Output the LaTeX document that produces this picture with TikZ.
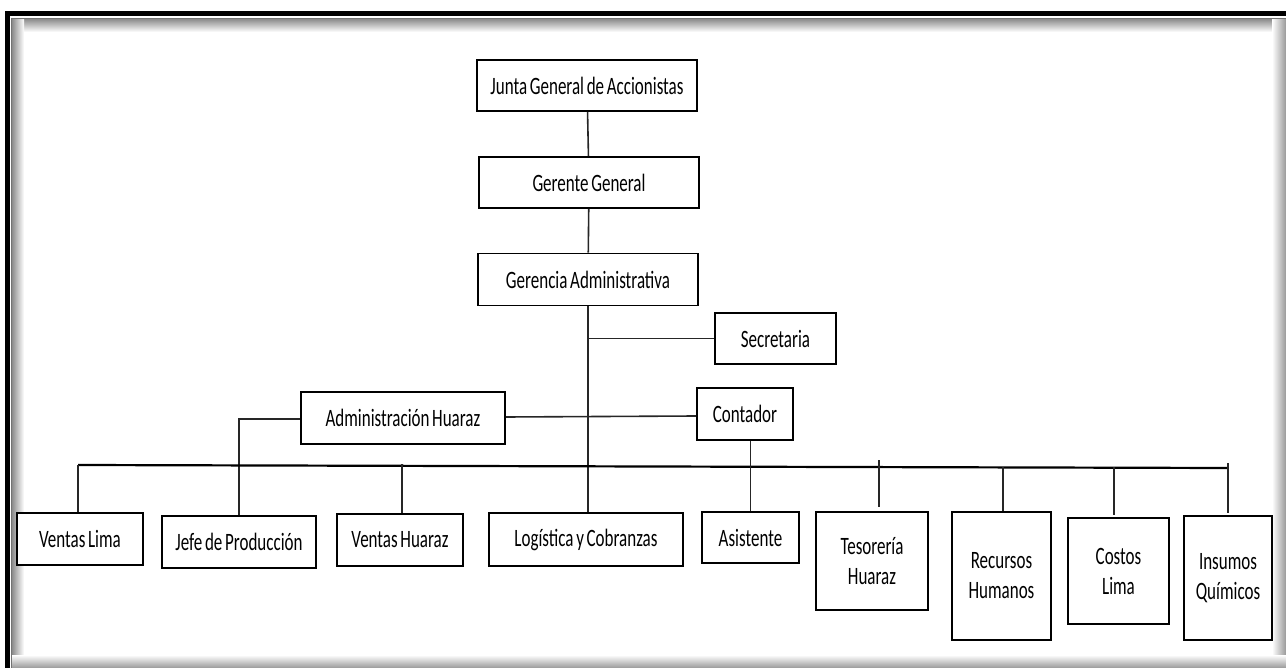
\documentclass[tikz,border=0pt]{standalone}
\usepackage{fontspec}
\setmainfont{Carlito}[FakeStretch=0.68, WordSpace=0.7]
\usepackage{tikz}
\usetikzlibrary{calc}

\begin{document}
\begin{tikzpicture}[x=1pt, y=-1pt,
    org/.style={draw=black, line width=1.6pt, fill=white, inner sep=0pt, align=center,
      font=\fontsize{25}{30}\selectfont},
    link/.style={black!85, line width=1.6pt},
    bus/.style={black, line width=2.2pt}]
    \useasboundingbox (0,0) rectangle (1286,668);
    % --- Frame (shadowed border, cut at right and bottom) ---
    \shade[top color=black!45, bottom color=white] (12,19) rectangle (1286,32);
    \shade[left color=black!45, right color=white] (12,19) rectangle (24,668);
    \shade[left color=white, right color=black!40] (1272,19) rectangle (1286,668);
    \shade[top color=white, bottom color=black!40] (12,655) rectangle (1286,668);
    \fill[black] (5,11) rectangle (1286,16);
    \fill[black] (5,11) rectangle (10,668);
    \draw[black!55, line width=1.5pt] (11.5,668) -- (11.5,18.5) -- (1286,18.5);
    % --- Upper chain ---
    \node[org, minimum width=220pt, minimum height=51pt] (junta) at (587,85.5) {Junta General de Accionistas};
    \node[org, minimum width=220pt, minimum height=51pt] (gerente) at (589,182.5) {Gerente General};
    \node[org, minimum width=220pt, minimum height=52pt] (gerencia) at (588,279.5) {Gerencia Administrativa};
    \node[org, minimum width=121pt, minimum height=51pt] (secretaria) at (775.5,338.5) {Secretaria};
    \node[org, minimum width=96pt, minimum height=52pt] (contador) at (745,414) {Contador};
    \node[org, minimum width=204pt, minimum height=52pt] (adminhz) at (403,418) {Administración Huaraz};
    % --- Bottom row ---
    \node[org, minimum width=126pt, minimum height=52pt] (ventaslima) at (80,539) {Ventas Lima};
    \node[org, minimum width=154pt, minimum height=52pt] (jefe) at (239,542) {Jefe de Producción};
    \node[org, minimum width=126pt, minimum height=52pt] (ventashz) at (400,540) {Ventas Huaraz};
    \node[org, minimum width=194pt, minimum height=53pt] (logistica) at (586,539.5) {Logística y Cobranzas};
    \node[org, minimum width=97pt, minimum height=51pt] (asistente) at (750.5,537.5) {Asistente};
    \node[org, minimum width=112pt, minimum height=98pt] (tesoreria) at (872,561) {Tesorería\\Huaraz};
    \node[org, minimum width=99pt, minimum height=128pt] (recursos) at (1001.5,576) {Recursos\\Humanos};
    \node[org, minimum width=101pt, minimum height=106pt] (costos) at (1118.5,571) {Costos\\Lima};
    \node[org, minimum width=88pt, minimum height=124pt] (insumos) at (1228,578) {Insumos\\Químicos};
    % --- Connectors ---
    \coordinate (busL) at (78,465);
    \coordinate (busR) at (1228,468);
    \coordinate (spine) at ($(gerencia.south)+(0,0)$);
    \draw[link] (junta) -- (gerente);
    \draw[link] (gerente) -- (gerencia);
    \draw[link] (spine) -- (spine |- logistica.north);
    \draw[link] (spine |- secretaria.west) -- (secretaria.west);
    \draw[link] ($(adminhz.east)+(0,-1)$) -- ($(contador.west)+(0,2)$);
    \draw[link] ($(adminhz.west)+(0,1)$) -| (jefe.north);
    \draw[bus] (busL) -- (busR);
    \draw[link] (busL) -- (busL |- ventaslima.north);
    \draw[link] ($(ventashz.north)+(2,-49)$) -- ($(ventashz.north)+(2,0)$);
    \draw[link] (asistente.north |- contador.south) -- (asistente.north);
    \draw[link] ($(tesoreria.north)+(7,-51)$) -- ($(tesoreria.north)+(7,-4)$);
    \draw[link] ($(recursos.north)+(1.5,-44)$) -- ($(recursos.north)+(1.5,0)$);
    \draw[link] ($(costos.north)+(-4.5,-50)$) -- ($(costos.north)+(-4.5,-2)$);
    \draw[link] ($(insumos.north)+(0,-52)$) -- ($(insumos.north)+(0,-2)$);
\end{tikzpicture}
\end{document}
